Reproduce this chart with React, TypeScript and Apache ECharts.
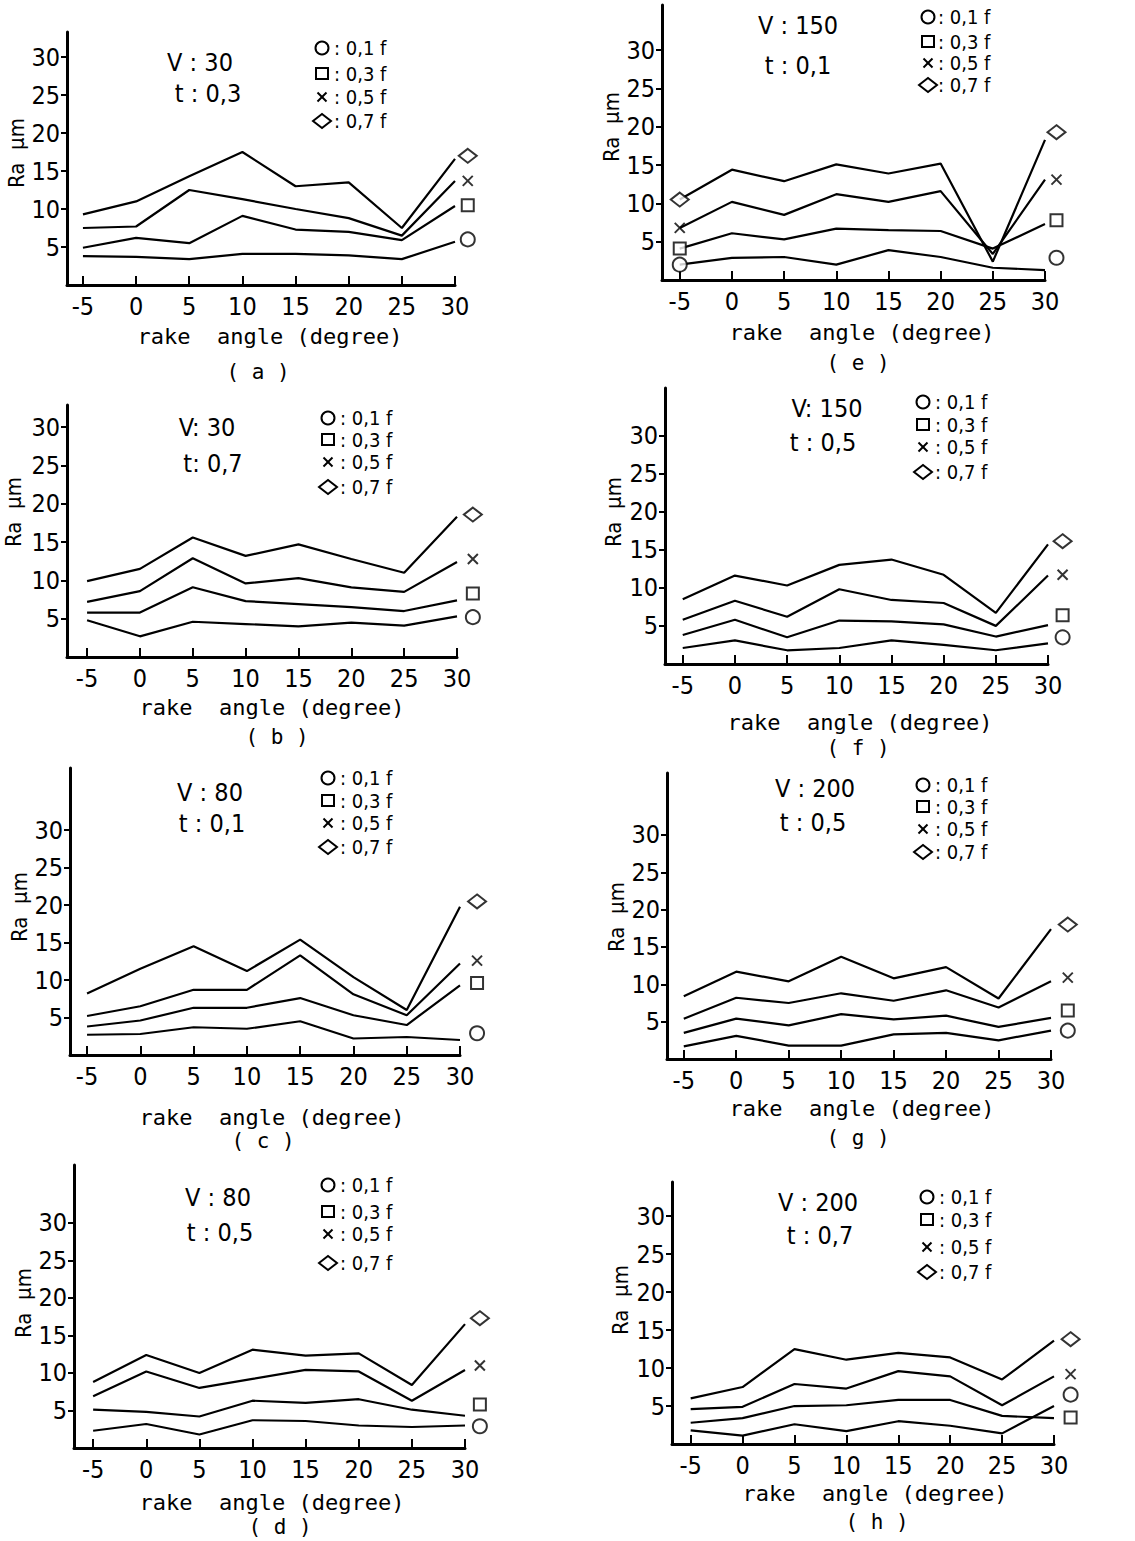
import React, { useEffect, useRef } from 'react';
import * as echarts from 'echarts';

// ---------- data ----------
const rakeAngles = [-5, 0, 5, 10, 15, 20, 25, 30];
const yTickValues = [5, 10, 15, 20, 25, 30];
const feedLabels = [': 0,1 f', ': 0,3 f', ': 0,5 f', ': 0,7 f'];

// each panel: [0.1f, 0.3f, 0.5f, 0.7f] Ra (µm) at the rake angles
const raA = [
  [3.8, 3.7, 3.4, 4.1, 4.1, 3.9, 3.4, 5.7],
  [4.9, 6.2, 5.5, 9.1, 7.3, 7.0, 5.9, 10.4],
  [7.5, 7.7, 12.5, 11.3, 10.0, 8.8, 6.5, 13.7],
  [9.3, 11.0, 14.3, 17.5, 13.0, 13.5, 7.5, 16.6],
];
const endA = [6.0, 10.5, 13.7, 17.0];

const raE = [
  [2.0, 2.9, 3.0, 2.0, 3.9, 3.0, 1.6, 1.3],
  [4.1, 6.1, 5.3, 6.7, 6.5, 6.4, 4.1, 7.3],
  [6.8, 10.2, 8.5, 11.2, 10.2, 11.6, 3.4, 13.1],
  [10.5, 14.4, 12.9, 15.1, 13.9, 15.2, 2.4, 18.3],
];
const endE = [2.9, 7.8, 13.1, 19.3];

const raB = [
  [4.8, 2.7, 4.6, 4.3, 4.0, 4.5, 4.1, 5.3],
  [5.8, 5.8, 9.1, 7.3, 6.9, 6.5, 6.0, 7.4],
  [7.2, 8.6, 12.9, 9.6, 10.3, 9.1, 8.5, 12.4],
  [9.9, 11.5, 15.6, 13.2, 14.7, 12.8, 11.0, 18.3],
];
const endB = [5.2, 8.3, 12.8, 18.6];

const raF = [
  [2.1, 3.1, 1.8, 2.1, 3.1, 2.5, 1.8, 2.7],
  [3.8, 5.8, 3.5, 5.7, 5.6, 5.2, 3.6, 5.1],
  [5.8, 8.3, 6.2, 9.8, 8.4, 8.0, 5.0, 11.6],
  [8.5, 11.6, 10.3, 13.0, 13.7, 11.7, 6.7, 15.7],
];
const endF = [3.5, 6.4, 11.7, 16.1];

const raC = [
  [2.7, 2.8, 3.7, 3.5, 4.5, 2.2, 2.4, 2.0],
  [3.8, 4.6, 6.3, 6.3, 7.6, 5.3, 4.0, 9.3],
  [5.2, 6.5, 8.7, 8.7, 13.3, 8.1, 5.3, 12.2],
  [8.2, 11.5, 14.5, 11.2, 15.4, 10.4, 6.0, 19.8],
];
const endC = [2.9, 9.6, 12.6, 20.5];

const raG = [
  [1.7, 3.1, 1.8, 1.8, 3.3, 3.5, 2.5, 3.8],
  [3.5, 5.4, 4.5, 6.0, 5.3, 5.8, 4.3, 5.5],
  [5.4, 8.2, 7.5, 8.8, 7.8, 9.2, 6.9, 10.4],
  [8.4, 11.7, 10.4, 13.7, 10.8, 12.3, 8.1, 17.4],
];
const endG = [3.8, 6.5, 10.9, 18.0];

const raD = [
  [2.3, 3.2, 1.8, 3.7, 3.6, 3.0, 2.8, 3.0],
  [5.1, 4.8, 4.2, 6.3, 6.0, 6.5, 5.1, 4.3],
  [6.9, 10.2, 8.0, 9.2, 10.4, 10.2, 6.3, 10.4],
  [8.8, 12.4, 10.0, 13.1, 12.3, 12.6, 8.4, 16.5],
];
const endD = [2.9, 5.8, 11.0, 17.3];

const raH = [
  [1.8, 1.1, 2.6, 1.7, 3.0, 2.4, 1.4, 5.0],
  [2.8, 3.4, 5.0, 5.1, 5.8, 5.8, 3.7, 3.4],
  [4.6, 4.9, 7.9, 7.3, 9.6, 8.9, 5.1, 8.9],
  [6.0, 7.5, 12.5, 11.1, 12.0, 11.4, 8.5, 13.6],
];
const endH = [6.5, 3.5, 9.2, 13.8];

// ---------- layout ----------
const FONT = "'DejaVu Sans Condensed', 'Liberation Sans Narrow', 'DejaVu Sans', sans-serif";
const MONO = "'DejaVu Sans Mono', 'Liberation Mono', monospace";

type Panel = {
  label: string; v: string; t: string; ra: number[][]; end: number[];
  grid: number[]; xMin: number; yMax: number; markX: number; leftMarks?: boolean;
  vPos: number[]; tPos: number[]; legX: number; legTextX: number; legRows: number[];
  yName: number[]; xName: number[]; labPos: number[];
};

const panels: Panel[] = [
  { label: '( a )', v: 'V : 30', t: 't : 0,3', ra: raA, end: endA,
    grid: [67, 32, 388, 253], xMin: -6.5, yMax: 33.3, markX: 31.2,
    vPos: [200, 62], tPos: [208, 93], legX: 322, legTextX: 334, legRows: [48, 74, 97, 121],
    yName: [16, 153], xName: [270, 336], labPos: [258, 372] },
  { label: '( e )', v: 'V : 150', t: 't : 0,1', ra: raE, end: endE,
    grid: [662, 5, 383, 275], xMin: -6.7, yMax: 35.9, markX: 31.1, leftMarks: true,
    vPos: [798, 25], tPos: [798, 65], legX: 928, legTextX: 938, legRows: [17, 42, 63, 85],
    yName: [611, 127], xName: [862, 332], labPos: [858, 363] },
  { label: '( b )', v: 'V: 30', t: 't: 0,7', ra: raB, end: endB,
    grid: [67, 405, 390, 252], xMin: -6.9, yMax: 32.9, markX: 31.5,
    vPos: [207, 427], tPos: [213, 463], legX: 328, legTextX: 340, legRows: [418, 440, 462, 487],
    yName: [13, 512], xName: [272, 707], labPos: [277, 737] },
  { label: '( f )', v: 'V: 150', t: 't : 0,5', ra: raF, end: endF,
    grid: [665, 388, 383, 276], xMin: -6.7, yMax: 36.2, markX: 31.4,
    vPos: [827, 408], tPos: [823, 442], legX: 923, legTextX: 935, legRows: [402, 425, 447, 472],
    yName: [613, 512], xName: [860, 722], labPos: [858, 748] },
  { label: '( c )', v: 'V : 80', t: 't : 0,1', ra: raC, end: endC,
    grid: [70, 768, 390, 287], xMin: -6.6, yMax: 38.3, markX: 31.6,
    vPos: [210, 792], tPos: [212, 823], legX: 328, legTextX: 340, legRows: [778, 801, 823, 847],
    yName: [19, 907], xName: [272, 1117], labPos: [263, 1141] },
  { label: '( g )', v: 'V : 200', t: 't : 0,5', ra: raG, end: endG,
    grid: [667, 773, 384, 286], xMin: -6.6, yMax: 38.3, markX: 31.6,
    vPos: [815, 788], tPos: [813, 822], legX: 923, legTextX: 935, legRows: [785, 807, 829, 852],
    yName: [616, 917], xName: [862, 1108], labPos: [858, 1138] },
  { label: '( d )', v: 'V : 80', t: 't : 0,5', ra: raD, end: endD,
    grid: [74, 1165, 391, 283], xMin: -6.8, yMax: 37.7, markX: 31.4,
    vPos: [218, 1197], tPos: [220, 1232], legX: 328, legTextX: 340, legRows: [1185, 1212, 1234, 1263],
    yName: [23, 1303], xName: [272, 1502], labPos: [280, 1527] },
  { label: '( h )', v: 'V : 200', t: 't : 0,7', ra: raH, end: endH,
    grid: [672, 1182, 382, 262], xMin: -6.8, yMax: 34.5, markX: 31.6,
    vPos: [818, 1202], tPos: [820, 1235], legX: 927, legTextX: 939, legRows: [1197, 1220, 1247, 1272],
    yName: [620, 1300], xName: [875, 1493], labPos: [877, 1522] },
];

const markerSymbols = ['circle', 'rect', 'path://M0,0L10,10M10,0L0,10', 'diamond'];
const markerSizes: any[] = [14, 12, 10, [18, 14]];

function legendShape(k: number, cx: number, cy: number): any {
  const st = { fill: 'none', stroke: '#000', lineWidth: 2 };
  if (k === 0) return { type: 'circle', shape: { cx, cy, r: 6.5 }, style: st };
  if (k === 1) return { type: 'rect', shape: { x: cx - 6, y: cy - 6, width: 12, height: 11 }, style: st };
  if (k === 2)
    return {
      type: 'group',
      children: [
        { type: 'line', shape: { x1: cx - 4.5, y1: cy - 4.5, x2: cx + 4.5, y2: cy + 4.5 }, style: { stroke: '#000', lineWidth: 2 } },
        { type: 'line', shape: { x1: cx + 4.5, y1: cy - 4.5, x2: cx - 4.5, y2: cy + 4.5 }, style: { stroke: '#000', lineWidth: 2 } },
      ],
    };
  return { type: 'polygon', shape: { points: [[cx - 9, cy], [cx, cy - 7], [cx + 9, cy], [cx, cy + 7]] }, style: st };
}

function buildOption(): any {
  const grid: any[] = [];
  const xAxis: any[] = [];
  const yAxis: any[] = [];
  const series: any[] = [];
  const graphic: any[] = [];

  panels.forEach((p, pi) => {
    grid.push({ left: p.grid[0], top: p.grid[1], width: p.grid[2], height: p.grid[3], containLabel: false, outerBoundsMode: 'none' });
    xAxis.push({
      type: 'value', gridIndex: pi, min: p.xMin, max: 30,
      axisLine: { show: true, onZero: false, lineStyle: { color: '#000', width: 3 } },
      axisTick: { show: true, inside: true, length: 9, customValues: rakeAngles, lineStyle: { color: '#000', width: 2 } },
      axisLabel: { customValues: rakeAngles, color: '#000', fontSize: 25, fontFamily: FONT, margin: 9 },
      splitLine: { show: false },
    });
    yAxis.push({
      type: 'value', gridIndex: pi, min: 0, max: p.yMax,
      axisLine: { show: true, onZero: false, lineStyle: { color: '#000', width: 3 } },
      axisTick: { show: true, inside: false, length: 6, customValues: yTickValues, lineStyle: { color: '#000', width: 2 } },
      axisLabel: { customValues: yTickValues, color: '#000', fontSize: 25, fontFamily: FONT, margin: 7 },
      splitLine: { show: false },
    });
    p.ra.forEach((vals, k) => {
      series.push({
        type: 'line', name: feedLabels[k], xAxisIndex: pi, yAxisIndex: pi,
        data: rakeAngles.map((x, j) => [x, vals[j]]),
        symbol: 'none', showSymbol: false, silent: true,
        lineStyle: { color: '#000', width: 2.2 }, z: 2,
      });
    });
    series.push({
      type: 'scatter', xAxisIndex: pi, yAxisIndex: pi, clip: false, silent: true,
      data: p.end.map((y, k) => ({ value: [p.markX, y], symbol: markerSymbols[k], symbolSize: markerSizes[k] })),
      itemStyle: { color: '#fff', borderColor: '#000', borderWidth: 2 }, z: 3,
    });
    if (p.leftMarks) {
      series.push({
        type: 'scatter', xAxisIndex: pi, yAxisIndex: pi, clip: false, silent: true,
        data: p.ra.map((vals, k) => ({ value: [rakeAngles[0], vals[0]], symbol: markerSymbols[k], symbolSize: markerSizes[k] })),
        itemStyle: { color: '#fff', borderColor: '#000', borderWidth: 2 }, z: 3,
      });
    }

    const txt = (text: string, x: number, y: number, size: number, family: string, align = 'center', extra: any = {}) => ({
      type: 'text', x, y, ...extra,
      style: { text, fill: '#000', fontSize: size, fontFamily: family, align, verticalAlign: 'middle' },
    });
    graphic.push(txt(p.v, p.vPos[0], p.vPos[1], 25, FONT));
    graphic.push(txt(p.t, p.tPos[0], p.tPos[1], 25, FONT));
    p.legRows.forEach((ry, k) => {
      graphic.push(legendShape(k, p.legX, ry));
      graphic.push(txt(feedLabels[k], p.legTextX, ry, 20, FONT, 'left'));
    });
    graphic.push(txt('Ra  μm', p.yName[0], p.yName[1], 22, FONT, 'center', { rotation: Math.PI / 2 }));
    graphic.push(txt('rake  angle (degree)', p.xName[0], p.xName[1], 22, MONO));
    graphic.push(txt(p.label, p.labPos[0], p.labPos[1], 21, MONO));
  });

  return {
    animation: false,
    backgroundColor: '#fff',
    grid, xAxis, yAxis, series, graphic,
  };
}

export default function App() {
  const ref = useRef<HTMLDivElement>(null);
  useEffect(() => {
    if (!ref.current) return;
    const chart = echarts.init(ref.current, undefined, { renderer: 'svg' });
    chart.setOption(buildOption());
    return () => chart.dispose();
  }, []);
  return (
    <div
      ref={ref}
      style={{ position: 'absolute', left: 0, top: 0, width: 1135, height: 1541, background: '#fff' }}
    />
  );
}
